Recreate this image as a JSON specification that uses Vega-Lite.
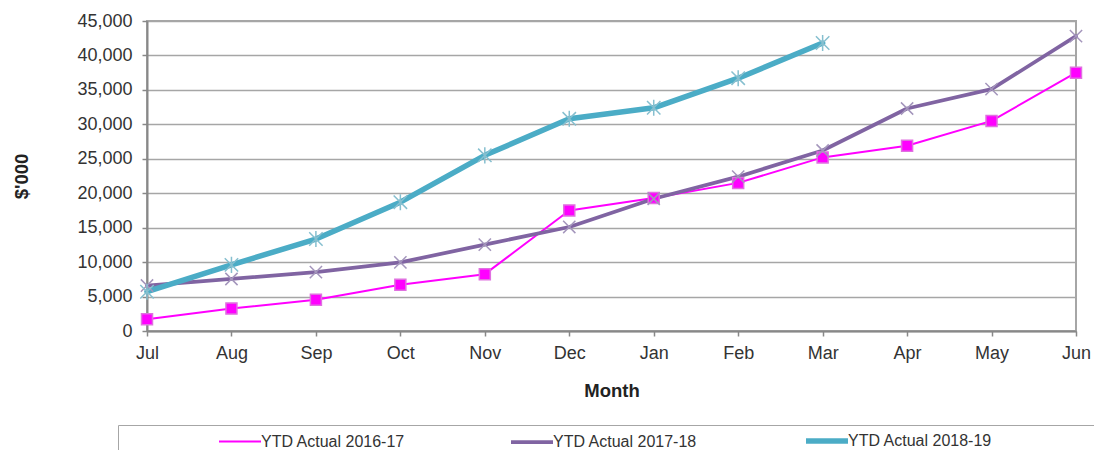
{
  "$schema": "https://vega.github.io/schema/vega-lite/v6.json",
  "width": 929,
  "height": 310,
  "autosize": {"type": "none"},
  "padding": {"left": 147, "top": 21, "right": 18, "bottom": 119},
  "background": "white",
  "config": {
    "font": "Liberation Sans",
    "view": {"stroke": "#a6a6a6", "strokeWidth": 2}
  },
  "data": {
    "values": [
      {"month": "Jul", "series": "YTD Actual 2016-17", "value": 1700},
      {"month": "Aug", "series": "YTD Actual 2016-17", "value": 3250},
      {"month": "Sep", "series": "YTD Actual 2016-17", "value": 4550},
      {"month": "Oct", "series": "YTD Actual 2016-17", "value": 6700},
      {"month": "Nov", "series": "YTD Actual 2016-17", "value": 8250},
      {"month": "Dec", "series": "YTD Actual 2016-17", "value": 17500},
      {"month": "Jan", "series": "YTD Actual 2016-17", "value": 19300},
      {"month": "Feb", "series": "YTD Actual 2016-17", "value": 21500},
      {"month": "Mar", "series": "YTD Actual 2016-17", "value": 25200},
      {"month": "Apr", "series": "YTD Actual 2016-17", "value": 26900},
      {"month": "May", "series": "YTD Actual 2016-17", "value": 30500},
      {"month": "Jun", "series": "YTD Actual 2016-17", "value": 37500},
      {"month": "Jul", "series": "YTD Actual 2017-18", "value": 6600},
      {"month": "Aug", "series": "YTD Actual 2017-18", "value": 7550},
      {"month": "Sep", "series": "YTD Actual 2017-18", "value": 8550},
      {"month": "Oct", "series": "YTD Actual 2017-18", "value": 9950},
      {"month": "Nov", "series": "YTD Actual 2017-18", "value": 12550},
      {"month": "Dec", "series": "YTD Actual 2017-18", "value": 15100},
      {"month": "Jan", "series": "YTD Actual 2017-18", "value": 19200},
      {"month": "Feb", "series": "YTD Actual 2017-18", "value": 22400},
      {"month": "Mar", "series": "YTD Actual 2017-18", "value": 26200},
      {"month": "Apr", "series": "YTD Actual 2017-18", "value": 32300},
      {"month": "May", "series": "YTD Actual 2017-18", "value": 35100},
      {"month": "Jun", "series": "YTD Actual 2017-18", "value": 42800},
      {"month": "Jul", "series": "YTD Actual 2018-19", "value": 5700},
      {"month": "Aug", "series": "YTD Actual 2018-19", "value": 9600},
      {"month": "Sep", "series": "YTD Actual 2018-19", "value": 13350},
      {"month": "Oct", "series": "YTD Actual 2018-19", "value": 18700},
      {"month": "Nov", "series": "YTD Actual 2018-19", "value": 25500},
      {"month": "Dec", "series": "YTD Actual 2018-19", "value": 30800},
      {"month": "Jan", "series": "YTD Actual 2018-19", "value": 32400},
      {"month": "Feb", "series": "YTD Actual 2018-19", "value": 36700},
      {"month": "Mar", "series": "YTD Actual 2018-19", "value": 41800}
    ]
  },
  "encoding": {
    "x": {
      "field": "month",
      "type": "ordinal",
      "sort": ["Jul", "Aug", "Sep", "Oct", "Nov", "Dec", "Jan", "Feb", "Mar", "Apr", "May", "Jun"],
      "scale": {"type": "point", "padding": 0},
      "axis": {
        "title": "Month",
        "labelAngle": 0,
        "labelFontSize": 18,
        "labelColor": "#333333",
        "labelPadding": 8,
        "tickSize": 5,
        "tickColor": "#888888",
        "tickWidth": 1.5,
        "domainColor": "#888888",
        "domainWidth": 2,
        "grid": false,
        "titleFontSize": 18.5,
        "titleFontWeight": "bold",
        "titleColor": "#222222",
        "titlePadding": 19
      }
    },
    "y": {
      "field": "value",
      "type": "quantitative",
      "scale": {"domain": [0, 45000], "nice": false},
      "axis": {
        "title": "$'000",
        "values": [0, 5000, 10000, 15000, 20000, 25000, 30000, 35000, 40000, 45000],
        "format": ",.0f",
        "labelFontSize": 18,
        "labelColor": "#333333",
        "labelPadding": 10,
        "tickSize": 5,
        "tickColor": "#888888",
        "tickWidth": 1.5,
        "domainColor": "#888888",
        "domainWidth": 2,
        "grid": true,
        "gridColor": "#a6a6a6",
        "gridWidth": 1.5,
        "titleFontSize": 18.5,
        "titleFontWeight": "bold",
        "titleColor": "#222222",
        "titlePadding": 45
      }
    }
  },
  "layer": [
    {
      "mark": {"type": "line", "strokeJoin": "round", "strokeCap": "round"},
      "encoding": {
        "stroke": {
          "field": "series",
          "type": "nominal",
          "scale": {
            "domain": ["YTD Actual 2016-17", "YTD Actual 2017-18", "YTD Actual 2018-19"],
            "range": ["#ff00ff", "#8064a2", "#4bacc6"]
          },
          "legend": {
            "orient": "none",
            "legendX": -29,
            "legendY": 404,
            "direction": "horizontal",
            "columns": 3,
            "title": " ",
            "titleOrient": "left",
            "titlePadding": 106,
            "strokeColor": "#a6a6a6",
            "padding": 3,
            "symbolType": "M-2.1,0H2.1",
            "symbolSize": 400,
            "labelFontSize": 16,
            "labelColor": "#333333",
            "labelOffset": 8,
            "labelLimit": 400,
            "columnPadding": 97,
            "labelExpr": "datum.label == 'YTD Actual 2018-19' ? datum.label + '\u2800\u2800\u2800\u2800\u2800\u2800\u2800\u2800\u2800\u2800\u2800\u2800\u2800\u2800\u2800\u2800\u2800\u2800\u2800\u2800' : datum.label"
          }
        },
        "strokeWidth": {
          "field": "series",
          "type": "nominal",
          "scale": {
            "domain": ["YTD Actual 2016-17", "YTD Actual 2017-18", "YTD Actual 2018-19"],
            "range": [2, 5.5, 4.5]
          }
        }
      }
    },
    {
      "mark": {"type": "point", "opacity": 1, "strokeWidth": 1.5},
      "encoding": {
        "shape": {
          "field": "series",
          "type": "nominal",
          "scale": {
            "domain": ["YTD Actual 2016-17", "YTD Actual 2017-18", "YTD Actual 2018-19"],
            "range": ["square", "M-1,-1L1,1M-1,1L1,-1", "M-1,-1L1,1M-1,1L1,-1M0,-1.2L0,1.2"]
          },
          "legend": null
        },
        "fill": {
          "field": "series",
          "type": "nominal",
          "scale": {
            "domain": ["YTD Actual 2016-17", "YTD Actual 2017-18", "YTD Actual 2018-19"],
            "range": ["#ff00ff", "transparent", "transparent"]
          },
          "legend": null
        },
        "stroke": {
          "field": "series",
          "type": "nominal",
          "scale": {
            "domain": ["YTD Actual 2016-17", "YTD Actual 2017-18", "YTD Actual 2018-19"],
            "range": ["#e070e0", "#a496bc", "#86bfcf"]
          },
          "legend": null
        },
        "size": {
          "field": "series",
          "type": "nominal",
          "scale": {
            "domain": ["YTD Actual 2016-17", "YTD Actual 2017-18", "YTD Actual 2018-19"],
            "range": [121, 180, 200]
          },
          "legend": null
        }
      }
    }
  ],
  "resolve": {"scale": {"stroke": "independent", "strokeWidth": "independent"}}
}
